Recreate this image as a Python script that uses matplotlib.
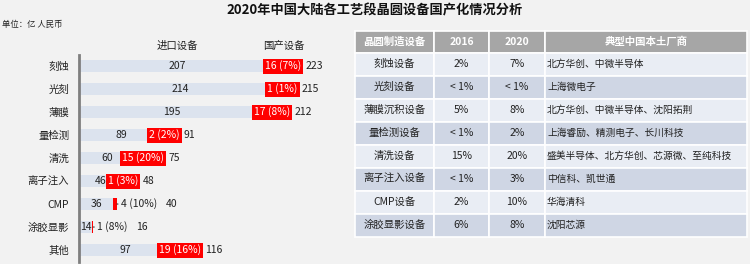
import matplotlib.pyplot as plt
from matplotlib.patches import Rectangle

plt.rcParams['font.family'] = ['Noto Sans CJK SC', 'DejaVu Sans']

# left chart data (亿 人民币)
categories = ['刻蚀', '光刻', '薄膜', '量检测', '清洗', '离子注入', 'CMP', '涂胶显影', '其他']
imported = [207, 214, 195, 89, 60, 46, 36, 14, 97]
domestic = [16, 1, 17, 2, 15, 1, 4, 1, 19]
domestic_pct = ['7%', '1%', '8%', '2%', '20%', '3%', '10%', '8%', '16%']
totals = [223, 215, 212, 91, 75, 48, 40, 16, 116]

# right table
table_header = ['晶圆制造设备', '2016', '2020', '典型中国本土厂商']
equipment = ['刻蚀设备', '光刻设备', '薄膜沉积设备', '量检测设备', '清洗设备',
             '离子注入设备', 'CMP设备', '涂胶显影设备']
share_2016 = ['2%', '< 1%', '5%', '< 1%', '15%', '< 1%', '2%', '6%']
share_2020 = ['7%', '< 1%', '8%', '2%', '20%', '3%', '10%', '8%']
vendors = ['北方华创、中微半导体', '上海微电子', '北方华创、中微半导体、沈阳拓荆',
           '上海睿励、精测电子、长川科技', '盛美半导体、北方华创、芯源微、至纯科技',
           '中信科、凯世通', '华海清科', '沈阳芯源']

W, H = 750, 264
fig = plt.figure(figsize=(W / 100, H / 100), dpi=100, facecolor='#f2f2f2')

# overlay in pixel coords for title / table
ov = fig.add_axes([0, 0, 1, 1])
ov.set_xlim(0, W)
ov.set_ylim(H, 0)
ov.axis('off')

ov.text(375, 10, '2020年中国大陆各工艺段晶圆设备国产化情况分析', ha='center', va='center',
        fontsize=9.5, fontweight='bold', color='#111111')
ov.text(2, 24, '单位：亿 人民币', ha='left', va='center', fontsize=6, color='#222222')
ov.text(177, 46, '进口设备', ha='center', va='center', fontsize=7.5, color='#222222')
ov.text(284, 46, '国产设备', ha='center', va='center', fontsize=7.5, color='#222222')

# table
col_x = [355, 434, 489, 545, 747]
top, hdr_h, row_h = 31, 21.5, 23
for j, h in enumerate(table_header):
    ov.add_patch(Rectangle((col_x[j], top), col_x[j + 1] - col_x[j], hdr_h,
                           fc='#a6a6a6', ec='white', lw=1.2))
    ov.text((col_x[j] + col_x[j + 1]) / 2, top + hdr_h / 2, h, ha='center', va='center',
            fontsize=7.5, fontweight='bold', color='white')
for i in range(len(equipment)):
    y0 = top + hdr_h + i * row_h
    fc = '#e9edf4' if i % 2 == 0 else '#cfd6e4'
    cells = [equipment[i], share_2016[i], share_2020[i], vendors[i]]
    for j, c in enumerate(cells):
        ov.add_patch(Rectangle((col_x[j], y0), col_x[j + 1] - col_x[j], row_h,
                               fc=fc, ec='white', lw=1.2))
        if j < 3:
            ov.text((col_x[j] + col_x[j + 1]) / 2, y0 + row_h / 2, c, ha='center',
                    va='center', fontsize=7.5, color='#222222')
        else:
            ov.text(col_x[j] + 2, y0 + row_h / 2, c, ha='left', va='center',
                    fontsize=7, color='#222222')

# bar chart
ax = fig.add_axes([79 / W, 1 - 262 / H, 261 / W, (262 - 55) / H])
ax.set_facecolor('none')
y = list(range(len(categories)))
ax.barh(y, imported, height=0.56, color='#dce3ee')
ax.barh(y, domestic, left=imported, height=0.56, color='#ff0000')
ax.set_xlim(0, 261 / 0.949)
ax.set_ylim(8.52, -0.48)
ax.set_yticks(y)
ax.set_yticklabels(categories, fontsize=7.5, color='#222222')
ax.tick_params(axis='y', length=0, pad=7)
ax.set_xticks([])
for s in ['top', 'right', 'bottom']:
    ax.spines[s].set_visible(False)
ax.spines['left'].set_color('#7f7f7f')
ax.spines['left'].set_linewidth(2)

fig.canvas.draw()
r = fig.canvas.get_renderer()
inv = ax.transData.inverted()
for i in y:
    ax.text(imported[i] / 2, i, str(imported[i]), ha='center', va='center',
            fontsize=7.5, color='#222222')
    lab = f'{domestic[i]} ({domestic_pct[i]})'
    if totals[i] >= 45:
        t = ax.text(imported[i] + domestic[i] / 2, i, lab, ha='center', va='center',
                    fontsize=7.5, color='white',
                    bbox=dict(boxstyle='square,pad=0.2', fc='#ff0000', ec='none'))
        gap = 4
    else:
        end = imported[i] + domestic[i]
        ax.annotate('', xy=(end, i), xytext=(end + 4, i),
                    arrowprops=dict(arrowstyle='-', color='#333333', lw=0.8))
        t = ax.text(end + 4, i, lab, ha='left', va='center', fontsize=7.5, color='#222222')
        gap = 9
    bb = t.get_window_extent(r)
    xd = inv.transform((bb.x1 + gap, 0))[0]
    ax.text(xd, i, str(totals[i]), ha='left', va='center', fontsize=7.5, color='#222222')

fig.savefig('out.png', dpi=100, facecolor=fig.get_facecolor())
